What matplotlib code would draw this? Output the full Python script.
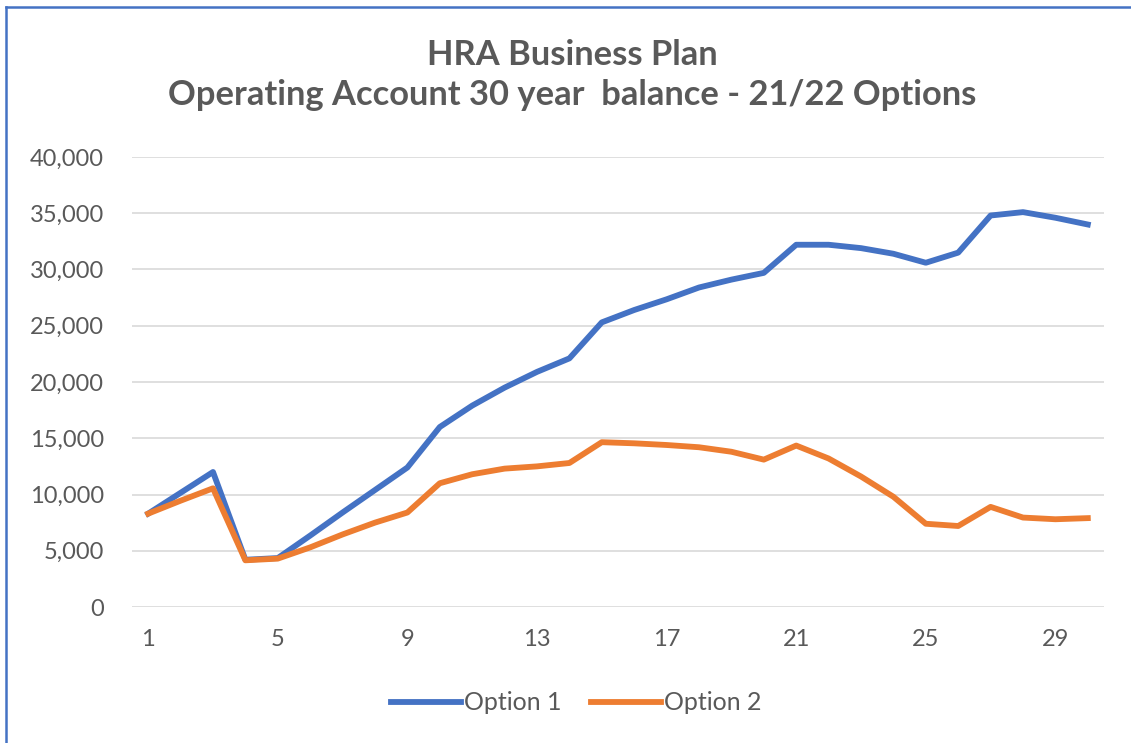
import numpy as np
import matplotlib
matplotlib.use("Agg")
import matplotlib.pyplot as plt
from matplotlib.lines import Line2D

# data
years = list(range(1, 31))
option1 = [8300, 10150, 12000, 4200, 4350, 6350, 8400, 10400, 12400, 16000,
           17900, 19500, 20900, 22100, 25300, 26400, 27350, 28400, 29100, 29700,
           32200, 32200, 31900, 31400, 30600, 31500, 34800, 35100, 34600, 34000]
option2 = [8300, 9450, 10550, 4150, 4300, 5300, 6450, 7500, 8400, 11000,
           11800, 12300, 12500, 12800, 14650, 14550, 14400, 14200, 13800, 13100,
           14350, 13200, 11600, 9800, 7400, 7200, 8900, 7950, 7800, 7900]
xticks = [1, 5, 9, 13, 17, 21, 25, 29]
yticks = list(range(0, 40001, 5000))

BLUE = "#4472C4"
ORANGE = "#ED7D31"
GREY = "#595959"

plt.rcParams["font.family"] = ["Lato", "DejaVu Sans"]

W, H = 1131, 743
fig = plt.figure(figsize=(W / 100, H / 100), dpi=100)
ax = fig.add_axes([132 / W, 1 - 607 / H, 972 / W, 450 / H])

ax.plot(years, option1, color=BLUE, lw=4.2, label="Option 1", solid_joinstyle="round")
ax.plot(years, option2, color=ORANGE, lw=4.2, label="Option 2", solid_joinstyle="round")

ax.set_xlim(0.5, 30.5)
ax.set_ylim(0, 40000)
ax.set_xticks(xticks)
ax.set_yticks(yticks)
ax.set_yticklabels([f"{v:,}" for v in yticks])
ax.tick_params(length=0, labelsize=17, labelcolor=GREY)
ax.tick_params(axis="y", pad=20)
ax.tick_params(axis="x", pad=16)
ax.grid(axis="y", color="#D9D9D9", lw=1.2)
ax.set_axisbelow(True)
for s in ax.spines.values():
    s.set_visible(False)

fig.text(572 / W, 1 - 75 / H, "HRA Business Plan\nOperating Account 30 year  balance - 21/22 Options",
         ha="center", va="center", fontsize=24.8, fontweight="bold", color=GREY,
         linespacing=1.3)

fig.legend(loc="center", bbox_to_anchor=(576 / W, 1 - 703 / H), ncol=2, frameon=False,
           fontsize=18, labelcolor=GREY, handlelength=2.8, handletextpad=0.1,
           columnspacing=1.2)

# chart border (only top and left edges visible in the crop)
fig.add_artist(Line2D([6 / W, 6 / W], [0, 1 - 7 / H], transform=fig.transFigure,
                      color=BLUE, lw=1.8))
fig.add_artist(Line2D([6 / W, 1], [1 - 7 / H, 1 - 7 / H], transform=fig.transFigure,
                      color=BLUE, lw=1.8))

fig.savefig("out.png", dpi=100)
